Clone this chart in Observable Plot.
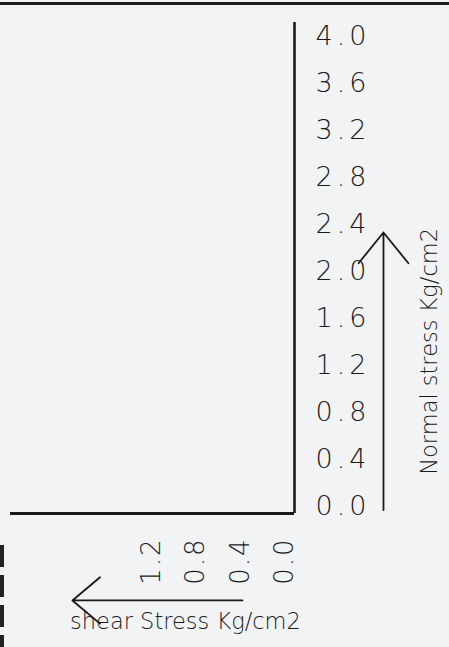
<!DOCTYPE html>
<html>
<head>
<meta charset="utf-8">
<script src="https://cdn.jsdelivr.net/npm/d3@7"></script>
<script src="https://cdn.jsdelivr.net/npm/@observablehq/plot@0.6"></script>
<style>
  html, body { margin: 0; padding: 0; background: #f2f3f5; }
  #wrap { position: relative; width: 449px; height: 647px; overflow: hidden; }
  #topline { position: absolute; left: 0; top: 2px; width: 449px; height: 3px; background: #1c1c1c; }
  #leftedge { position: absolute; left: 0; top: 545px; width: 4px; height: 102px;
    background: repeating-linear-gradient(#222 0 22px, transparent 22px 30px); }
  svg { display: block; }
  .yticks text { letter-spacing: 4px; }
  .xticks text { letter-spacing: 2px; }
</style>
</head>
<body>
<div id="wrap">
  <div id="chart"></div>
  <div id="topline"></div>
  <div id="leftedge"></div>
</div>
<script>
// Axis values (the chart is an empty set of axes)
const normalStressTicks = [0.0, 0.4, 0.8, 1.2, 1.6, 2.0, 2.4, 2.8, 3.2, 3.6, 4.0];
const shearStressTicks = [0.0, 0.4, 0.8, 1.2];
const yTitle = "Normal stress Kg/cm2";
const xTitle = "shear Stress Kg/cm2";

const xDomain = [-0.09, 2.473];
const yDomain = [-0.06, 4.119];
const ink = "#1a1a1a";
const font = "'DejaVu Sans', sans-serif";
const fmt = d => d.toFixed(1);

const plot = Plot.plot({
  width: 449,
  height: 647,
  marginLeft: 10,
  marginRight: 155,
  marginTop: 22,
  marginBottom: 134,
  style: { background: "transparent", fontFamily: font, color: ink, overflow: "visible" },
  x: { domain: xDomain, reverse: true, axis: null },
  y: { domain: yDomain, axis: null },
  marks: [
    // Tick labels (Normal stress, right of the vertical axis)
    Plot.text(normalStressTicks, {
      y: d => d, text: fmt, frameAnchor: "right", dx: 21, textAnchor: "start",
      fontSize: 27, fill: ink, fontWeight: 300, lineAnchor: "middle", className: "yticks"
    }),
    // Tick labels (Shear stress, below the horizontal axis, rotated)
    Plot.text(shearStressTicks, {
      x: d => d, text: fmt, frameAnchor: "bottom", dy: 24, rotate: -90, textAnchor: "end",
      fontSize: 26, fill: ink, fontWeight: 300, lineAnchor: "middle", className: "xticks"
    }),
    // L-shaped axis lines
    Plot.ruleX([xDomain[0]], { stroke: ink, strokeWidth: 2.6 }),
    Plot.ruleY([yDomain[0]], { stroke: ink, strokeWidth: 2.8 }),
    // Direction arrows
    Plot.arrow([0], {
      x1: -0.893, x2: -0.893, y1: -0.03, y2: 2.332,
      stroke: ink, strokeWidth: 1.8, headLength: 33, headAngle: 78, clip: false
    }),
    Plot.arrow([0], {
      x1: 0.379, x2: 1.914, y1: -0.80, y2: -0.80,
      stroke: ink, strokeWidth: 1.8, headLength: 30, headAngle: 80, clip: false
    }),
    // Axis titles
    Plot.text([yTitle], {
      text: d => d, y: 1.32, frameAnchor: "right", dx: 135, rotate: -90,
      fontSize: 22.5, fill: ink, fontWeight: 300, textAnchor: "middle"
    }),
    Plot.text([xTitle], {
      text: d => d, x: 0.894, frameAnchor: "bottom", dy: 115,
      fontSize: 22.5, fill: ink, fontWeight: 300, textAnchor: "middle"
    })
  ]
});
document.getElementById("chart").appendChild(plot);
</script>
</body>
</html>
